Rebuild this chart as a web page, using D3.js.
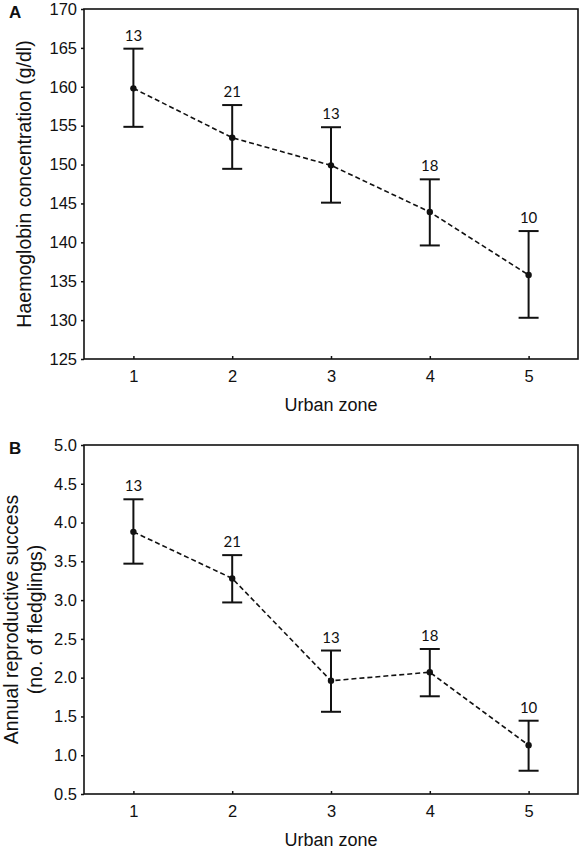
<!DOCTYPE html>
<html>
<head>
<meta charset="utf-8">
<script src="https://cdn.jsdelivr.net/npm/d3@7"></script>
<style>
  html, body { margin: 0; padding: 0; background: #fff; }
  svg { display: block; }
</style>
</head>
<body>
<svg id="chart" width="580" height="852"></svg>
<script>
// ---- Data ----
const zones = [1, 2, 3, 4, 5];
const sampleSizes = [13, 21, 13, 18, 10];

const hbMean  = [159.8, 153.45, 149.9, 143.9, 135.8];
const hbUpper = [164.9, 157.65, 154.8, 148.1, 141.45];
const hbLower = [154.85, 149.45, 145.1, 139.6, 130.3];
const hbTicks = [125, 130, 135, 140, 145, 150, 155, 160, 165, 170];

const rsMean  = [3.88, 3.28, 1.96, 2.07, 1.13];
const rsUpper = [4.30, 3.58, 2.35, 2.37, 1.445];
const rsLower = [3.47, 2.97, 1.56, 1.76, 0.80];
const rsTicks = [0.5, 1.0, 1.5, 2.0, 2.5, 3.0, 3.5, 4.0, 4.5, 5.0];

const xLabel = "Urban zone";

// ---- Drawing ----
const svg = d3.select("#chart");
const left = 84, right = 578;
const axisFont = "'Liberation Sans', Arial, sans-serif";
const nFont = "Lato, 'Open Sans', sans-serif";

function drawPanel(opts) {
  const { top, bottom, mean, upper, lower, ticks, fmt, letter, yLabelLines, yLabelX } = opts;
  const x = d3.scaleLinear().domain([0.5, 5.5]).range([left, right]);
  const y = d3.scaleLinear().domain([ticks[0], ticks[ticks.length - 1]]).range([bottom, top]);
  const g = svg.append("g");

  // Y axis
  const ya = g.append("g").attr("transform", `translate(${left},0)`)
    .call(d3.axisLeft(y).tickValues(ticks).tickFormat(fmt).tickSize(3).tickPadding(4));
  ya.select(".domain").remove();
  ya.selectAll("line").attr("stroke", "#111").attr("stroke-width", 1.5);
  ya.selectAll("text").attr("font-family", axisFont).attr("font-size", 16.5).attr("fill", "#111");

  // X axis (inward ticks)
  const xa = g.append("g").attr("transform", `translate(0,${bottom})`)
    .call(d3.axisBottom(x).tickValues(zones).tickFormat(d3.format("d")).tickSizeInner(-3).tickSizeOuter(0).tickPadding(11));
  xa.select(".domain").remove();
  xa.selectAll("line").attr("stroke", "#111").attr("stroke-width", 1.5);
  xa.selectAll("text").attr("font-family", axisFont).attr("font-size", 16.5).attr("fill", "#111");

  // Box
  g.append("rect").attr("x", left).attr("y", top)
    .attr("width", right - left).attr("height", bottom - top)
    .attr("fill", "none").attr("stroke", "#111").attr("stroke-width", 1.6);

  // Dashed line
  const line = d3.line().x((d, i) => x(zones[i])).y(d => y(d));
  g.append("path").datum(mean).attr("d", line)
    .attr("fill", "none").attr("stroke", "#111").attr("stroke-width", 1.6)
    .attr("stroke-dasharray", "5,3");

  // Error bars
  const eb = g.selectAll(".eb").data(zones).enter().append("g");
  eb.append("line").attr("x1", d => x(d)).attr("x2", d => x(d))
    .attr("y1", (d, i) => y(upper[i])).attr("y2", (d, i) => y(lower[i]))
    .attr("stroke", "#111").attr("stroke-width", 2);
  eb.append("line").attr("x1", d => x(d) - 10).attr("x2", d => x(d) + 10)
    .attr("y1", (d, i) => y(upper[i])).attr("y2", (d, i) => y(upper[i]))
    .attr("stroke", "#111").attr("stroke-width", 2);
  eb.append("line").attr("x1", d => x(d) - 10).attr("x2", d => x(d) + 10)
    .attr("y1", (d, i) => y(lower[i])).attr("y2", (d, i) => y(lower[i]))
    .attr("stroke", "#111").attr("stroke-width", 2);
  eb.append("circle").attr("cx", d => x(d)).attr("cy", (d, i) => y(mean[i]))
    .attr("r", 3.2).attr("fill", "#111");
  eb.append("text").attr("x", d => x(d)).attr("y", (d, i) => y(upper[i]) - 8)
    .attr("text-anchor", "middle").attr("font-family", nFont).attr("font-size", 15)
    .attr("fill", "#111").text((d, i) => sampleSizes[i]);

  // X title
  g.append("text").attr("x", (left + right) / 2).attr("y", bottom + 52)
    .attr("text-anchor", "middle").attr("font-family", axisFont).attr("font-size", 18)
    .attr("fill", "#111").text(xLabel);

  // Y title
  const cy = (top + bottom) / 2;
  yLabelLines.forEach((t, i) => {
    g.append("text").attr("transform", `translate(${yLabelX[i]},${cy}) rotate(-90)`)
      .attr("text-anchor", "middle").attr("font-family", axisFont).attr("font-size", 19.5)
      .attr("fill", "#111").text(t);
  });

  // Panel letter
  g.append("text").attr("x", 9).attr("y", top + 9).attr("font-family", axisFont)
    .attr("font-weight", "bold").attr("font-size", 17).attr("fill", "#111").text(letter);
}

drawPanel({
  top: 9, bottom: 359, mean: hbMean, upper: hbUpper, lower: hbLower,
  ticks: hbTicks, fmt: d3.format("d"), letter: "A",
  yLabelLines: ["Haemoglobin concentration (g/dl)"], yLabelX: [31]
});
drawPanel({
  top: 445, bottom: 794, mean: rsMean, upper: rsUpper, lower: rsLower,
  ticks: rsTicks, fmt: d3.format(".1f"), letter: "B",
  yLabelLines: ["Annual reproductive success", "(no. of fledglings)"], yLabelX: [18, 42]
});
</script>
</body>
</html>
